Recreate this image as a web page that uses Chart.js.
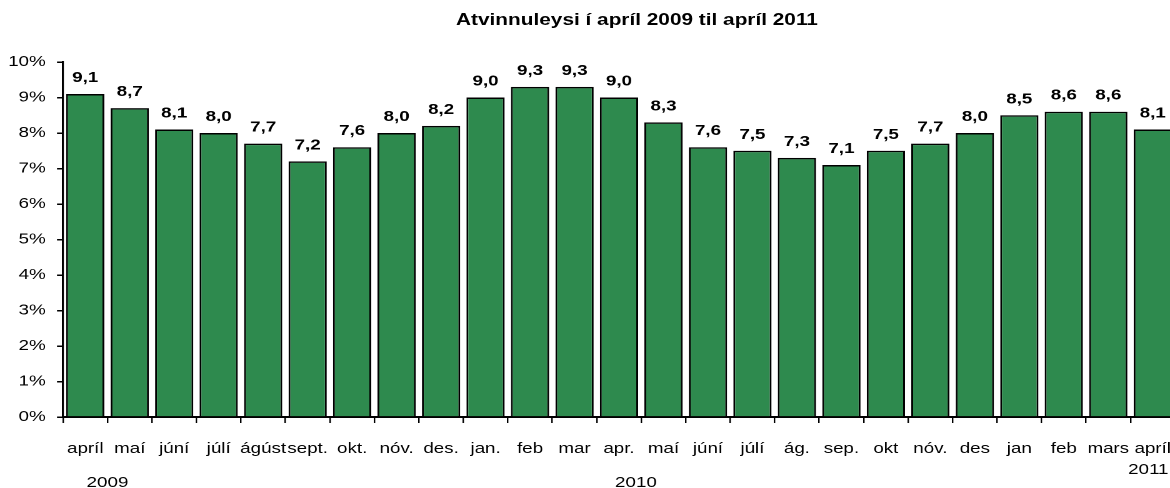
<!DOCTYPE html>
<html>
<head>
<meta charset="utf-8">
<script src="https://cdn.jsdelivr.net/npm/chart.js@4.4.1/dist/chart.umd.min.js"></script>
<style>
  html, body { margin: 0; padding: 0; background: #fff; overflow: hidden; width: 1170px; height: 488px; }
  /* the source picture is stretched sideways, so the chart is drawn narrow and widened */
  #wrap { position: absolute; left: 0; top: 0; width: 944px; height: 488px;
          transform: scaleX(1.25); transform-origin: 0 0; }
  #title { position: absolute; left: 337px; top: 11px; width: 600px; text-align: center;
           font: bold 16px "Liberation Sans", Arial, sans-serif; color: #000; white-space: nowrap;
           transform: scaleX(1.3); transform-origin: 50% 50%; }
</style>
</head>
<body>
<div id="wrap"><canvas id="c"></canvas></div>
<div id="title">Atvinnuleysi í apríl 2009 til apríl 2011</div>
<script>
  var STRETCH = 1.25;

  var months = ['apríl', 'maí', 'júní', 'júlí', 'ágúst', 'sept.', 'okt.', 'nóv.', 'des.',
    'jan.', 'feb', 'mar', 'apr.', 'maí', 'júní', 'júlí', 'ág.', 'sep.', 'okt', 'nóv.', 'des',
    'jan', 'feb', 'mars', 'apríl'];
  var unemployment = [9.1, 8.7, 8.1, 8.0, 7.7, 7.2, 7.6, 8.0, 8.2, 9.0, 9.3, 9.3, 9.0,
    8.3, 7.6, 7.5, 7.3, 7.1, 7.5, 7.7, 8.0, 8.5, 8.6, 8.6, 8.1];
  // year label: [text, category index, shift in categories, y]
  var years = [['2009', 0, 0.5, 483], ['2010', 12, 0.38, 483], ['2011', 24, -0.1, 470]];

  var FONT = '"Liberation Sans", Arial, sans-serif';

  var valueLabels = {
    id: 'valueLabels',
    afterDatasetsDraw: function (chart) {
      var ctx = chart.ctx;
      var meta = chart.getDatasetMeta(0);
      ctx.save();
      ctx.font = 'bold 15px ' + FONT;
      ctx.fillStyle = '#000';
      ctx.textAlign = 'center';
      ctx.textBaseline = 'alphabetic';
      meta.data.forEach(function (bar, i) {
        ctx.fillText(unemployment[i].toFixed(1).replace('.', ','), bar.x, bar.y - 12);
      });
      ctx.restore();
    }
  };

  var yearLabels = {
    id: 'yearLabels',
    afterDraw: function (chart) {
      var ctx = chart.ctx;
      var xs = chart.scales.x;
      var step = xs.getPixelForValue(1) - xs.getPixelForValue(0);
      ctx.save();
      ctx.font = '15px ' + FONT;
      ctx.fillStyle = '#000';
      ctx.textAlign = 'center';
      ctx.textBaseline = 'middle';
      years.forEach(function (y) {
        ctx.fillText(y[0], xs.getPixelForValue(y[1]) + y[2] * step, y[3]);
      });
      ctx.restore();
    }
  };

  new Chart(document.getElementById('c'), {
    type: 'bar',
    data: {
      labels: months,
      datasets: [{
        data: unemployment,
        backgroundColor: '#2e8a4e',
        borderColor: '#000',
        borderWidth: 1.5,
        categoryPercentage: 1,
        barPercentage: 0.86
      }]
    },
    options: {
      responsive: true,
      maintainAspectRatio: false,
      animation: false,
      devicePixelRatio: 2,
      layout: { padding: { top: 62, right: 5 / STRETCH, left: 0, bottom: 0 } },
      plugins: { legend: { display: false }, tooltip: { enabled: false }, title: { display: false } },
      scales: {
        x: {
          afterFit: function (s) { s.height = 71; s.paddingLeft = 0; s.paddingRight = 0; },
          border: { color: '#000', width: 2 },
          grid: { display: true, drawOnChartArea: false, drawTicks: true, tickLength: 6, color: '#000', lineWidth: 1.2, offset: true },
          ticks: { color: '#000', font: { family: FONT, size: 15 }, padding: 17, maxRotation: 0, autoSkip: false }
        },
        y: {
          min: 0,
          max: 10,
          afterFit: function (s) { s.width = 63 / STRETCH; },
          border: { color: '#000', width: 1.6 },
          grid: { display: true, drawOnChartArea: false, drawTicks: true, tickLength: 6 / STRETCH, color: '#000', lineWidth: 1.5 },
          ticks: { stepSize: 1, color: '#000', font: { family: FONT, size: 15 }, padding: 9,
                   callback: function (v) { return v + '%'; } }
        }
      }
    },
    plugins: [valueLabels, yearLabels]
  });
</script>
</body>
</html>
